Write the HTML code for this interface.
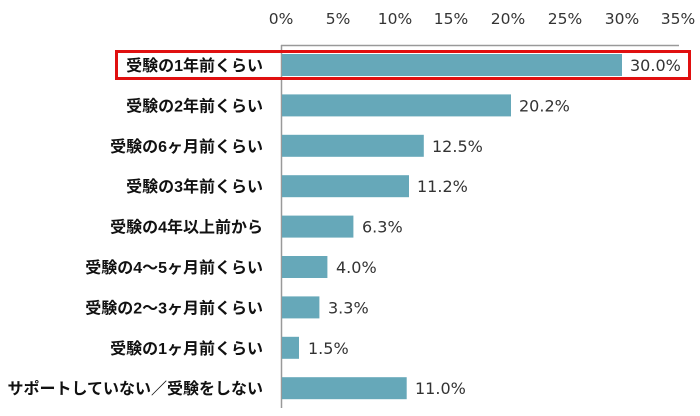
<!DOCTYPE html>
<html><head><meta charset="utf-8"><style>
html,body{margin:0;padding:0;background:#fff;}
svg{display:block;}
.t{font-family:"DejaVu Sans","Noto Sans CJK JP",sans-serif;fill:#333;}
.j{font-family:"Liberation Sans","Noto Sans CJK JP",sans-serif;fill:#111;}
</style></head><body>
<svg width="700" height="416" viewBox="0 0 700 416" xmlns="http://www.w3.org/2000/svg">
<g class="t" font-size="15.5" text-anchor="middle">
<text x="281" y="24">0%</text><text x="338" y="24">5%</text><text x="395" y="24">10%</text><text x="451" y="24">15%</text><text x="508" y="24">20%</text><text x="565" y="24">25%</text><text x="622" y="24">30%</text><text x="678" y="24">35%</text>
</g>
<line x1="281.5" y1="45" x2="281.5" y2="408" stroke="#999" stroke-width="1.5"/>
<line x1="281" y1="45.5" x2="679" y2="45.5" stroke="#999" stroke-width="1.5"/>
<g fill="#66a8b9">
<rect x="282" y="54" width="340" height="22"/>
<rect x="282" y="94.4" width="229" height="22"/>
<rect x="282" y="134.8" width="141.8" height="22"/>
<rect x="282" y="175.2" width="127" height="22"/>
<rect x="282" y="215.6" width="71.4" height="22"/>
<rect x="282" y="256" width="45.4" height="22"/>
<rect x="282" y="296.4" width="37.4" height="22"/>
<rect x="282" y="336.8" width="17" height="22"/>
<rect x="282" y="377.2" width="124.7" height="22"/>
</g>
<rect x="116.5" y="51.5" width="573" height="27" fill="none" stroke="#e01010" stroke-width="3"/>
<g class="t" font-size="16">
<text x="630" y="71">30.0%</text>
<text x="519" y="111.4">20.2%</text>
<text x="432" y="151.8">12.5%</text>
<text x="417" y="192.2">11.2%</text>
<text x="362" y="232.6">6.3%</text>
<text x="336" y="273">4.0%</text>
<text x="328" y="313.4">3.3%</text>
<text x="308" y="353.8">1.5%</text>
<text x="415" y="394.2">11.0%</text>
</g>
<g class="j" font-size="16" font-weight="bold" text-anchor="end">
<text x="263" y="71">受験の1年前くらい</text>
<text x="263" y="111.4">受験の2年前くらい</text>
<text x="263" y="151.8">受験の6ヶ月前くらい</text>
<text x="263" y="192.2">受験の3年前くらい</text>
<text x="263" y="232.6">受験の4年以上前から</text>
<text x="263" y="273">受験の4～5ヶ月前くらい</text>
<text x="263" y="313.4">受験の2～3ヶ月前くらい</text>
<text x="263" y="353.8">受験の1ヶ月前くらい</text>
<text x="263" y="394.2">サポートしていない／受験をしない</text>
</g>
</svg>
</body></html>
